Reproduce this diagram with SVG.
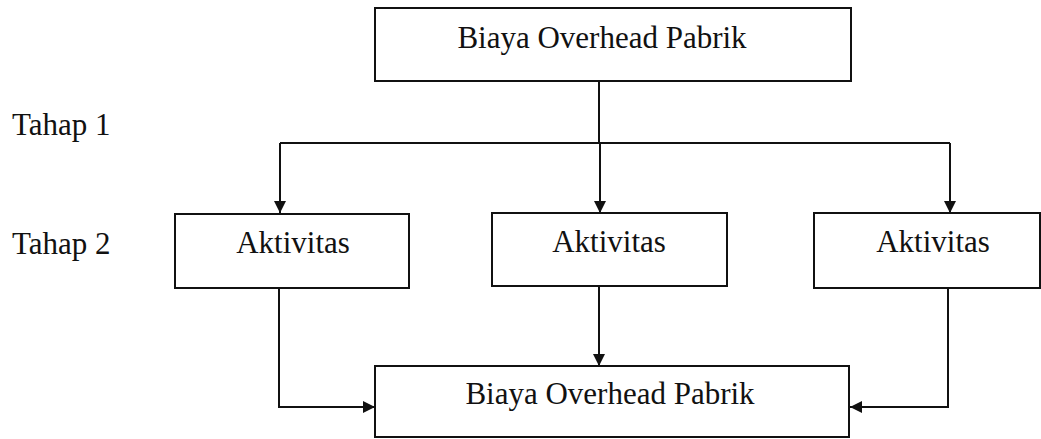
<svg xmlns="http://www.w3.org/2000/svg" width="1041" height="439" viewBox="0 0 1041 439">
<style>
.box{fill:#fff;stroke:#111;stroke-width:2}
.t{font-family:"Liberation Serif","Times New Roman",serif;font-size:31px;fill:#111}
.m{text-anchor:middle}
.c{fill:none;stroke:#111;stroke-width:2}
</style>
<defs>
<marker id="ah" viewBox="0 0 10 10" refX="10" refY="5" markerWidth="12" markerHeight="12" markerUnits="userSpaceOnUse" orient="auto">
<path d="M0,0 L10,5 L0,10 Z" fill="#111"/>
</marker>
</defs>
<g id="labels">
<text class="t" x="12" y="135">Tahap 1</text>
<text class="t" x="12" y="254">Tahap 2</text>
</g>
<g id="connectors">
<path class="c" d="M599,81 V143"/>
<path class="c" d="M280,143 H950"/>
<path class="c" d="M280,143 V213" marker-end="url(#ah)"/>
<path class="c" d="M600,143 V213" marker-end="url(#ah)"/>
<path class="c" d="M950,143 V213" marker-end="url(#ah)"/>
<path class="c" d="M279,288 V407 H375" marker-end="url(#ah)"/>
<path class="c" d="M599,287 V366" marker-end="url(#ah)"/>
<path class="c" d="M948,288 V407 H850" marker-end="url(#ah)"/>
</g>
<g id="top">
<rect class="box" x="375" y="8" width="476" height="73"/>
<text class="t m" x="602" y="48">Biaya Overhead Pabrik</text>
</g>
<g id="akt1">
<rect class="box" x="175" y="214" width="234" height="74"/>
<text class="t m" x="293" y="253">Aktivitas</text>
</g>
<g id="akt2">
<rect class="box" x="492" y="213" width="235" height="73"/>
<text class="t m" x="609" y="252">Aktivitas</text>
</g>
<g id="akt3">
<rect class="box" x="814" y="213" width="226" height="75"/>
<text class="t m" x="933" y="252">Aktivitas</text>
</g>
<g id="bottom">
<rect class="box" x="375" y="366" width="474" height="71"/>
<text class="t m" x="610" y="404">Biaya Overhead Pabrik</text>
</g>
</svg>
